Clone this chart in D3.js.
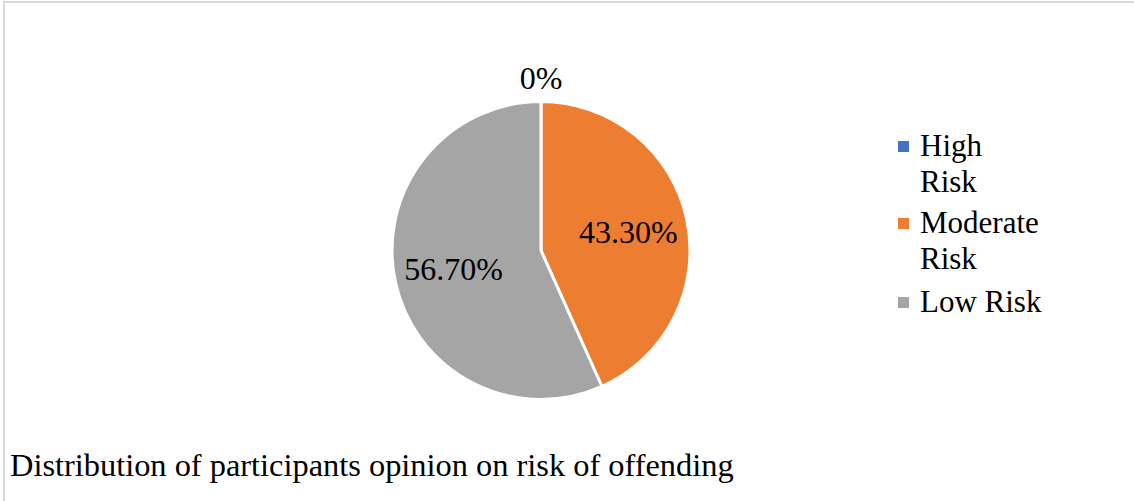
<!DOCTYPE html>
<html>
<head>
<script src="https://d3js.org/d3.v7.min.js"></script>
<title>Risk of offending</title>
<style>
body { margin: 0; background: #fff; }
#root { width: 1134px; height: 501px; display: block; }
</style>
</head>
<body>
<svg id="root"></svg>
<script>
let categories = ['High Risk', 'Moderate Risk', 'Low Risk']
let values = [0, 43.3, 56.7]
let labels = ['0%', '43.30%', '56.70%']
let legendLines = [['High', 'Risk'], ['Moderate', 'Risk'], ['Low Risk']]
let colors = ['#4472C4', '#ED7D31', '#A5A5A5']
let title = 'Distribution of participants opinion on risk of offending'

let font = 'Liberation Serif'
let svg = d3.select('#root')

// frame: only top and left edges show
svg.append('line').attr('x1', 4).attr('x2', 1134).attr('y1', 2).attr('y2', 2)
	.attr('stroke', '#d9d9d9').attr('stroke-width', 2)
svg.append('line').attr('x1', 4).attr('x2', 4).attr('y1', 1).attr('y2', 501)
	.attr('stroke', '#d9d9d9').attr('stroke-width', 2)

let cx = 541, cy = 250.5, r = 149

let pie = d3.pie().sort(null).value(d => d)
let arcs = pie(values)
let arc = d3.arc().innerRadius(0).outerRadius(r)
let labelArc = d3.arc().innerRadius(r * 0.6).outerRadius(r * 0.6)

let g = svg.append('g').attr('transform', 'translate(' + cx + ',' + cy + ')')

g.selectAll('.slice').data(arcs).enter().append('path')
	.attr('class', 'slice')
	.attr('d', arc)
	.attr('fill', (d, i) => colors[i])
	.attr('stroke', '#fff')
	.attr('stroke-width', 3)
	.attr('stroke-linejoin', 'round')

g.selectAll('.lbl').data(arcs).enter().append('text')
	.attr('class', 'lbl')
	.attr('text-anchor', 'middle')
	.attr('font-family', font)
	.attr('font-size', 32)
	.attr('transform', d => {
		if (d.value === 0) return 'translate(0,' + (-r - 13) + ')'
		let c = labelArc.centroid(d)
		return 'translate(' + c[0] + ',' + c[1] + ')'
	})
	.attr('dy', d => d.value === 0 ? 0 : '0.35em')
	.text((d, i) => labels[i])

// legend
let legY = [156, 233, 312]
let leg = svg.selectAll('.leg').data(categories).enter().append('g')
	.attr('class', 'leg')
	.attr('transform', (d, i) => 'translate(898,' + legY[i] + ')')

leg.append('rect').attr('x', 0).attr('y', -15).attr('width', 11).attr('height', 11)
	.attr('fill', (d, i) => colors[i])

leg.append('text').attr('x', 22).attr('font-family', font).attr('font-size', 31)
	.selectAll('tspan').data((d, i) => legendLines[i]).enter().append('tspan')
	.attr('x', 22).attr('dy', (d, j) => j === 0 ? 0 : 36)
	.text(d => d)

svg.append('text').attr('x', 10).attr('y', 476)
	.attr('font-family', font)
	.attr('font-size', 32.4)
	.text(title)
</script>
</body>
</html>
